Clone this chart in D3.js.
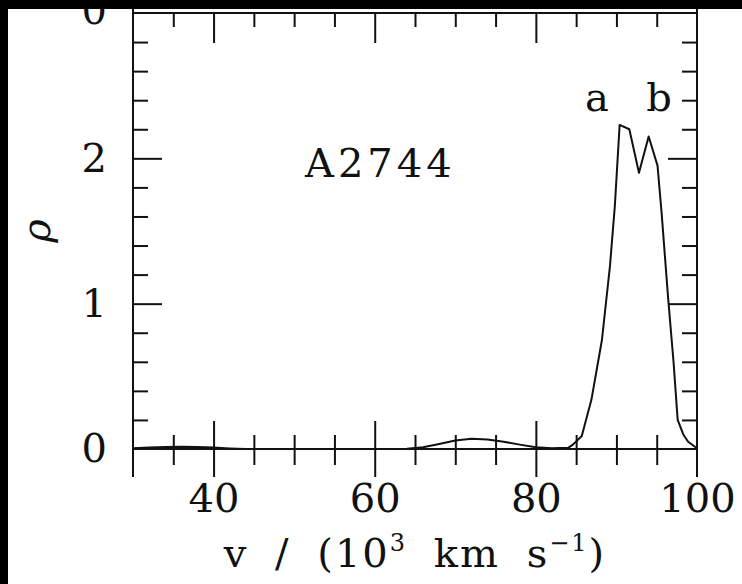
<!DOCTYPE html>
<html>
<head>
<meta charset="utf-8">
<script src="https://cdn.jsdelivr.net/npm/d3@7"></script>
<style>
  html, body { margin: 0; padding: 0; background: #000; }
  svg { display: block; }
</style>
</head>
<body>
<svg id="chart" width="742" height="584"></svg>
<script>
// velocity (10^3 km/s) and density
const velocity = [30, 32, 34, 36, 38, 40, 42, 44, 50, 60, 64, 66, 68, 70, 72, 74, 76, 78, 80, 82, 84, 84.6,
  85.7, 86.9, 88.2, 89.2, 89.8, 90.4, 91.6, 92.8, 94.0, 95.1, 95.6, 96.4, 97.1, 97.6, 98.3, 98.9, 100];
const density = [0.006, 0.01, 0.014, 0.016, 0.014, 0.01, 0.004, 0, 0, 0, 0.002, 0.012, 0.035, 0.058, 0.07, 0.066,
  0.05, 0.03, 0.012, 0.005, 0.008, 0.03, 0.09, 0.34, 0.75, 1.26, 1.67, 2.23, 2.2, 1.9, 2.15, 1.95, 1.63, 1.05,
  0.59, 0.2, 0.1, 0.05, 0.005];

const xMajor = [40, 60, 80, 100];
const xMinor = [35, 45, 50, 55, 65, 70, 75, 85, 90, 95];
const yMajor = [0, 1, 2];
const yMinor = [0.2, 0.4, 0.6, 0.8, 1.2, 1.4, 1.6, 1.8, 2.2, 2.4, 2.6, 2.8];
const peakLabels = [{ name: 'a', v: 87.6 }, { name: 'b', v: 95.2 }];
const clusterName = 'A2744';

const width = 742;
const height = 584;
const font = '"DejaVu Serif", serif';

const svg = d3.select('#chart');

// white page, black strips left and top (scan edges)
svg.append('rect').attr('x', 8).attr('y', 9).attr('width', width - 8).attr('height', height - 9).attr('fill', '#fff');

const x = d3.scaleLinear().domain([30, 100]).range([133, 697]);
const y = d3.scaleLinear().domain([0, 3]).range([449, 13]);

const tickStyle = (g) => {
  g.select('.domain').remove();
  g.selectAll('.tick line').attr('stroke', '#111').attr('stroke-width', 2);
};

// minor / major ticks on all four sides, pointing in
const ticks = svg.append('g');
ticks.append('g').attr('transform', `translate(0,${y(3)})`)
  .call(d3.axisBottom(x).tickValues(xMinor).tickSize(14).tickFormat('')).call(tickStyle);
ticks.append('g').attr('transform', `translate(0,${y(3)})`)
  .call(d3.axisBottom(x).tickValues([40, 60, 80]).tickSize(30).tickFormat('')).call(tickStyle);
// bottom: ticks cross the shared axis line
ticks.append('g').attr('transform', `translate(0,${y(0)})`)
  .call(d3.axisTop(x).tickValues(xMinor).tickSize(14).tickFormat('')).call(tickStyle);
ticks.append('g').attr('transform', `translate(0,${y(0)})`)
  .call(d3.axisBottom(x).tickValues(xMinor).tickSize(16).tickFormat('')).call(tickStyle);
ticks.append('g').attr('transform', `translate(0,${y(0)})`)
  .call(d3.axisTop(x).tickValues([40, 60, 80]).tickSize(28).tickFormat('')).call(tickStyle);
ticks.append('g').attr('transform', `translate(0,${y(0)})`)
  .call(d3.axisBottom(x).tickValues([40, 60, 80]).tickSize(28).tickFormat('')).call(tickStyle);
ticks.append('g').attr('transform', `translate(${x(30)},0)`)
  .call(d3.axisRight(y).tickValues(yMinor).tickSize(15).tickFormat('')).call(tickStyle);
ticks.append('g').attr('transform', `translate(${x(30)},0)`)
  .call(d3.axisRight(y).tickValues([1, 2]).tickSize(29).tickFormat('')).call(tickStyle);
ticks.append('g').attr('transform', `translate(${x(100)},0)`)
  .call(d3.axisLeft(y).tickValues(yMinor).tickSize(15).tickFormat('')).call(tickStyle);
ticks.append('g').attr('transform', `translate(${x(100)},0)`)
  .call(d3.axisLeft(y).tickValues([1, 2]).tickSize(29).tickFormat('')).call(tickStyle);

// frame: verticals run through into the neighbouring panels
const frame = svg.append('g').attr('stroke', '#111').attr('stroke-width', 2).attr('fill', 'none');
frame.append('line').attr('x1', x(30)).attr('x2', x(30)).attr('y1', 0).attr('y2', 477);
frame.append('line').attr('x1', x(100)).attr('x2', x(100)).attr('y1', 0).attr('y2', 477);
frame.append('line').attr('x1', x(30)).attr('x2', x(100)).attr('y1', y(3)).attr('y2', y(3));
frame.append('line').attr('x1', x(30)).attr('x2', x(100)).attr('y1', y(0)).attr('y2', y(0));

// density curve
const line = d3.line().x((d, i) => x(velocity[i])).y((d) => y(d));
svg.append('path')
  .datum(density)
  .attr('d', line)
  .attr('fill', 'none')
  .attr('stroke', '#111')
  .attr('stroke-width', 2)
  .attr('stroke-linejoin', 'round');

// tick labels
const yAxis = svg.append('g').attr('transform', `translate(${x(30)},0)`)
  .call(d3.axisLeft(y).tickValues(yMajor).tickSize(0).tickPadding(26).tickFormat(d3.format('d')));
yAxis.select('.domain').remove();
yAxis.selectAll('text').attr('font-family', font).attr('font-size', 40).attr('fill', '#111');

// "0" of the panel above, mostly hidden under the top edge
svg.append('text')
  .attr('x', 107).attr('y', 24)
  .attr('text-anchor', 'end')
  .attr('font-family', font).attr('font-size', 40).attr('fill', '#111')
  .text('0');

const xAxis = svg.append('g').attr('transform', `translate(0,${y(0)})`)
  .call(d3.axisBottom(x).tickValues(xMajor).tickSize(0).tickPadding(35));
xAxis.select('.domain').remove();
xAxis.selectAll('text').attr('font-family', font).attr('font-size', 40).attr('fill', '#111');

// axis titles
const xTitle = svg.append('text')
  .attr('x', (x(30) + x(100)) / 2)
  .attr('y', 567)
  .attr('text-anchor', 'middle')
  .attr('font-family', font)
  .attr('font-size', 40)
  .attr('letter-spacing', 2)
  .attr('word-spacing', 12)
  .attr('fill', '#111');
xTitle.append('tspan').text('v / (10');
xTitle.append('tspan').attr('font-size', 24).attr('dy', -16).text('3');
xTitle.append('tspan').attr('dy', 16).text(' km s');
xTitle.append('tspan').attr('font-size', 24).attr('dy', -16).text('−1');
xTitle.append('tspan').attr('dy', 16).text(')');

svg.append('text')
  .attr('transform', `translate(50,${(y(0) + y(3)) / 2}) rotate(-90)`)
  .attr('text-anchor', 'middle')
  .attr('font-family', font)
  .attr('font-style', 'italic')
  .attr('font-size', 40)
  .attr('fill', '#111')
  .text('ρ');

// annotations
svg.append('text')
  .attr('x', 305).attr('y', 177)
  .attr('font-family', font).attr('font-size', 40).attr('letter-spacing', 4)
  .attr('fill', '#111')
  .text(clusterName);

svg.selectAll('.peak')
  .data(peakLabels)
  .join('text')
  .attr('class', 'peak')
  .attr('x', (d) => x(d.v) - 12)
  .attr('y', 111)
  .attr('font-family', font).attr('font-size', 40)
  .attr('fill', '#111')
  .text((d) => d.name);

// black scan edges on top
svg.append('rect').attr('x', 0).attr('y', 0).attr('width', width).attr('height', 9).attr('fill', '#000');
svg.append('rect').attr('x', 0).attr('y', 0).attr('width', 8).attr('height', height).attr('fill', '#000');
</script>
</body>
</html>
